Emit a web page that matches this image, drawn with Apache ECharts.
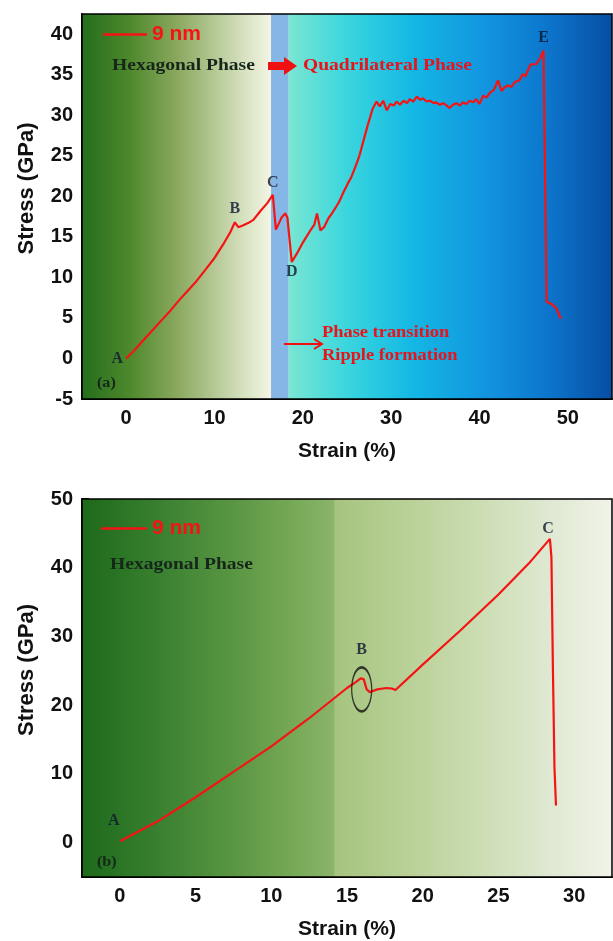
<!DOCTYPE html>
<html>
<head>
<meta charset="utf-8">
<script src="https://cdn.jsdelivr.net/npm/echarts@6/dist/echarts.min.js"></script>
<style>
html,body{margin:0;padding:0;background:#fff;}
#c{width:613px;height:941px;}
</style>
</head>
<body>
<div id="c"></div>
<script>
// ---------- data: panel (a) ----------
var strainA = [0, 1.0, 2.0, 3.0, 4.0, 5.0, 6.0, 7.0, 8.0, 9.0, 10.0, 11.0, 11.8, 12.3, 12.7, 13.2, 13.8, 14.4, 15.2, 16.0, 16.6,
  16.95, 17.3, 17.6, 18.0, 18.25, 18.75, 19.3, 19.9, 20.4, 20.8, 21.3, 21.6, 22.0, 22.4, 22.9, 23.3, 23.7, 24.1, 24.6,
  25.1, 25.5, 26.0, 26.4, 26.9, 27.3, 27.6, 27.9, 28.35, 28.7, 29.1, 29.5, 29.9, 30.3, 30.6, 31.0, 31.4, 31.8, 32.1,
  32.5, 32.9, 33.3, 33.6, 34.0, 34.4, 34.8, 35.1, 35.5, 35.9, 36.3, 36.6, 37.0, 37.4, 37.8, 38.1, 38.5, 38.9, 39.3,
  39.6, 40.0, 40.4, 40.8, 41.2, 41.6, 42.1, 42.5, 42.8, 43.2, 43.6, 44.0, 44.5, 44.9, 45.2, 45.5, 45.8, 46.0, 46.4,
  46.9, 47.25, 47.6, 47.8, 48.2, 48.7, 49.2];
var stressA = [0, 1.1, 2.3, 3.5, 4.7, 5.9, 7.2, 8.4, 9.6, 11.0, 12.4, 14.1, 15.6, 16.8, 16.2, 16.4, 16.7, 17.1, 18.2, 19.2, 20.2,
  15.9, 16.7, 17.4, 17.9, 17.4, 11.9, 12.9, 14.1, 15.0, 15.7, 16.5, 17.9, 15.8, 16.2, 17.3, 17.9, 18.6, 19.3, 20.5,
  21.6, 22.4, 23.8, 25.0, 27.0, 28.6, 29.7, 30.8, 31.7, 31.1, 31.8, 30.6, 31.4, 31.2, 31.7, 31.3, 31.8, 31.5, 32.0,
  31.7, 32.3, 31.9, 32.1, 31.7, 31.8, 31.5, 31.6, 31.3, 31.5, 31.2, 30.9, 31.3, 31.5, 31.2, 31.6, 31.4, 31.8, 31.6,
  32.0, 31.4, 32.4, 32.2, 32.8, 33.1, 34.3, 33.0, 33.4, 33.7, 33.5, 34.1, 34.3, 35.1, 34.8, 35.6, 36.3, 36.5, 36.3,
  37.1, 38.0, 7.0, 6.8, 6.7, 6.2, 4.9];
var pointStrainA = [0, 12.3, 16.6, 18.75, 47.25];
var pointStressA = [0, 16.8, 20.2, 11.9, 38.0];
var pointNamesA = ['A', 'B', 'C', 'D', 'E'];
var xMajorA = [0, 10, 20, 30, 40, 50];
var xMinorA = [5, 15, 25, 35, 45];
var yMajorA = [-5, 0, 5, 10, 15, 20, 25, 30, 35, 40];
var yMinorA = [-2.5, 2.5, 7.5, 12.5, 17.5, 22.5, 27.5, 32.5, 37.5];
var phaseBandA = [16.4, 18.4];

// ---------- data: panel (b) ----------
var strainB = [0, 2.5, 5, 7.5, 10, 12.5, 15, 15.6, 15.9, 16.1, 16.3, 16.5, 17.0, 17.6, 18.0, 18.2, 20, 22.5, 25, 27, 28.4, 28.5, 28.6, 28.7, 28.8];
var stressB = [0.2, 3.1, 6.6, 10.3, 14.0, 18.1, 22.5, 23.4, 23.9, 23.8, 22.3, 21.9, 22.3, 22.5, 22.4, 22.2, 25.9, 30.9, 36.1, 40.6, 44.2, 41.5, 25.0, 11.0, 5.4];
var pointStrainB = [0, 28.4];
var pointStressB = [0.2, 44.2];
var pointNamesB = ['A', 'C'];
var circleB = [15.97, 22.3];
var xMajorB = [0, 5, 10, 15, 20, 25, 30];
var xMinorB = [2.5, 7.5, 12.5, 17.5, 22.5, 27.5];
var yMajorB = [0, 10, 20, 30, 40, 50];
var yMinorB = [-5, 5, 15, 25, 35, 45];
var bgSplitB = 14.2;

function zip(a, b) { return a.map(function (v, i) { return [v, b[i]]; }); }
function grad(stops) {
  return { type: 'linear', x: 0, y: 0, x2: 1, y2: 0,
    colorStops: stops.map(function (s) { return { offset: s[0], color: s[1] }; }) };
}

var RED = '#f51414';
var sans = 'Liberation Sans, Arial';
var serif = 'Liberation Serif, Times New Roman';
var tickFont = { fontFamily: sans, fontWeight: 'bold', fontSize: 20, color: '#111' };

function mainX(grid, min, max, majors, name) {
  return { type: 'value', gridIndex: grid, min: min, max: max, position: 'bottom',
    name: name, nameLocation: 'middle', nameGap: 42,
    nameTextStyle: { fontFamily: sans, fontWeight: 'bold', fontSize: 21, color: '#111' },
    axisLine: { show: true, onZero: false, lineStyle: { color: '#000', width: 2 } },
    axisTick: { show: true, inside: true, length: 7, lineStyle: { color: '#000', width: 2 }, customValues: majors },
    axisLabel: Object.assign({ margin: 9, customValues: majors }, tickFont),
    splitLine: { show: false } };
}
function minorX(grid, min, max, minors) {
  return { type: 'value', gridIndex: grid, min: min, max: max, position: 'bottom', offset: 0,
    axisLine: { show: false }, axisLabel: { show: false }, splitLine: { show: false },
    axisTick: { show: true, inside: true, length: 4, lineStyle: { color: '#000', width: 2 }, customValues: minors } };
}
function mainY(grid, min, max, majors, name) {
  return { type: 'value', gridIndex: grid, min: min, max: max, position: 'left',
    name: name, nameLocation: 'middle', nameGap: 44,
    nameTextStyle: { fontFamily: sans, fontWeight: 'bold', fontSize: 22, color: '#111', padding: [0, 0, 0, 36] },
    axisLine: { show: true, onZero: false, lineStyle: { color: '#000', width: 2 } },
    axisTick: { show: true, inside: true, length: 7, lineStyle: { color: '#000', width: 2 }, customValues: majors },
    axisLabel: Object.assign({ margin: 9, customValues: majors }, tickFont),
    splitLine: { show: false } };
}
function minorY(grid, min, max, minors) {
  return { type: 'value', gridIndex: grid, min: min, max: max, position: 'left', offset: 0,
    axisLine: { show: false }, axisLabel: { show: false }, splitLine: { show: false },
    axisTick: { show: true, inside: true, length: 6, lineStyle: { color: '#000', width: 2 }, customValues: minors } };
}

var letterStyle = { fontFamily: serif, fontWeight: 'bold', fontSize: 16, color: '#0e1630' };

var labelPlaceA = [
  { position: 'left', distance: 3 },
  { position: 'top', distance: 5 },
  { position: 'top', distance: 4 },
  { position: 'bottom', distance: 2 },
  { position: 'top', distance: 5 }
];
var labelPlaceB = [
  { position: 'top', distance: 12, offset: [-6, 0] },
  { position: 'top', distance: 2, offset: [-2, 0] }
];

function annot(text, x, y, size, color) {
  return { type: 'text', x: x, y: y, scaleX: 1.15, z: 20,
    style: { text: text, fill: color, font: 'bold ' + size + 'px ' + serif, textAlign: 'left', textVerticalAlign: 'middle', verticalAlign: 'middle' } };
}
var legendText = { color: RED, fontFamily: sans, fontWeight: 'bold', fontSize: 21 };

var option = {
  animation: false,
  backgroundColor: '#fff',
  grid: [
    { left: 82, top: 14, width: 530, height: 385, show: true, z: 10, backgroundColor: 'transparent', borderColor: '#000', borderWidth: 1.5 },
    { left: 82, top: 499, width: 530, height: 383, show: true, z: 10, backgroundColor: 'transparent', borderColor: '#000', borderWidth: 1.5 }
  ],
  legend: [
    { left: 98, top: 19, icon: 'rect', itemWidth: 44, itemHeight: 2.4, data: ['9 nm'], textStyle: legendText },
    { left: 96, top: 513, icon: 'rect', itemWidth: 46, itemHeight: 2.4, data: ['9 nm'], textStyle: legendText }
  ],
  xAxis: [
    mainX(0, -5, 55, xMajorA, 'Strain (%)'),
    minorX(0, -5, 55, xMinorA),
    mainX(1, -2.5, 32.5, xMajorB, 'Strain (%)'),
    minorX(1, -2.5, 32.5, xMinorB)
  ],
  yAxis: [
    mainY(0, -5, 42.5, yMajorA, 'Stress (GPa)'),
    minorY(0, -5, 42.5, yMinorA),
    mainY(1, -5, 50, yMajorB, 'Stress (GPa)'),
    minorY(1, -5, 50, yMinorB)
  ],
  series: [
    {
      name: '9 nm', type: 'line', xAxisIndex: 0, yAxisIndex: 0, data: zip(strainA, stressA),
      symbol: 'none', showSymbol: false, lineStyle: { color: RED, width: 2.2 }, itemStyle: { color: RED }, z: 5,
      markArea: {
        silent: true,
        data: [
          [{ xAxis: -5, itemStyle: { color: grad([[0, '#246e1c'], [0.25, '#4d882c'], [0.5, '#8aa85e'], [0.75, '#bfd0a2'], [0.9, '#e0e8cc'], [1, '#f3f5e3']]) } }, { xAxis: phaseBandA[0] }],
          [{ xAxis: phaseBandA[0], itemStyle: { color: '#86b6e6' } }, { xAxis: phaseBandA[1] }],
          [{ xAxis: phaseBandA[1], itemStyle: { color: grad([[0, '#7ae6d2'], [0.18, '#3ad6de'], [0.38, '#14b8e4'], [0.6, '#1296e0'], [0.8, '#0c76cc'], [0.9, '#0a62b8'], [1, '#054ea4']]) } }, { xAxis: 55 }]
        ]
      }
    },
    {
      name: '9 nm', type: 'line', xAxisIndex: 2, yAxisIndex: 2, data: zip(strainB, stressB),
      symbol: 'none', showSymbol: false, lineStyle: { color: RED, width: 2.2 }, itemStyle: { color: RED }, z: 5,
      markArea: {
        silent: true,
        data: [
          [{ xAxis: -2.5, itemStyle: { color: grad([[0, '#1d6a1a'], [0.3, '#388030'], [0.6, '#5a9642'], [0.85, '#78aa58'], [1, '#8cb46a']]) } }, { xAxis: bgSplitB }],
          [{ xAxis: bgSplitB, itemStyle: { color: grad([[0, '#a6c47e'], [0.25, '#b8d096'], [0.5, '#cadcb0'], [0.75, '#dde7cf'], [1, '#f1f3e8']]) } }, { xAxis: 32.5 }]
        ]
      }
    },
    {
      type: 'scatter', xAxisIndex: 0, yAxisIndex: 0, symbolSize: 0, z: 6, silent: true,
      data: pointStrainA.map(function (x, i) {
        return { value: [x, pointStressA[i]], label: Object.assign({ show: true, formatter: pointNamesA[i] }, letterStyle, labelPlaceA[i]) };
      })
    },
    {
      type: 'scatter', xAxisIndex: 2, yAxisIndex: 2, symbolSize: 0, z: 6, silent: true,
      data: pointStrainB.map(function (x, i) {
        return { value: [x, pointStressB[i]], label: Object.assign({ show: true, formatter: pointNamesB[i] }, letterStyle, labelPlaceB[i]) };
      })
    },
    {
      type: 'scatter', xAxisIndex: 2, yAxisIndex: 2, symbol: 'circle', symbolSize: [20, 44], z: 7, silent: true,
      itemStyle: { color: 'rgba(0,0,0,0)', borderColor: '#111', borderWidth: 1.8 },
      label: Object.assign({ show: true, formatter: 'B', position: 'top', distance: 8 }, letterStyle),
      data: [circleB]
    }
  ],
  graphic: [
    annot('Hexagonal Phase', 112, 66, 17, '#16261a'),
    { type: 'polygon', z: 20, shape: { points: [[268, 62], [284, 62], [284, 57], [297, 66], [284, 75], [284, 70], [268, 70]] }, style: { fill: '#f01010' } },
    annot('Quadrilateral Phase', 303, 66, 17, '#e8141c'),
    { type: 'line', z: 20, shape: { x1: 284, y1: 344, x2: 321, y2: 344 }, style: { stroke: '#f01010', lineWidth: 2 } },
    { type: 'polyline', z: 20, shape: { points: [[314, 339], [322, 344], [314, 349]] }, style: { stroke: '#f01010', lineWidth: 2, fill: null } },
    annot('Phase transition', 322, 333, 16, '#e8141c'),
    annot('Ripple formation', 322, 356, 16, '#e8141c'),
    annot('(a)', 97, 383, 14, '#16261a'),
    annot('Hexagonal Phase', 110, 565, 17, '#16261a'),
    annot('(b)', 97, 862, 14, '#16261a')
  ]
};

var chart = echarts.init(document.getElementById('c'), null, { renderer: 'canvas' });
chart.setOption(option);
</script>
</body>
</html>
